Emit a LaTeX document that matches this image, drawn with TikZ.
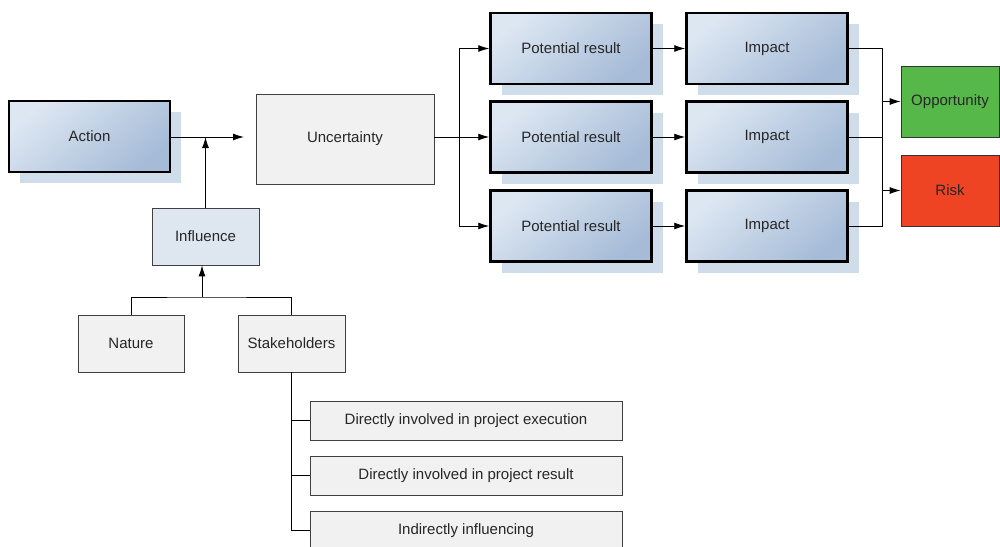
\documentclass[tikz,border=0pt]{standalone}
\usepackage{fontspec}
\setmainfont{Liberation Sans}
\usetikzlibrary{shadows,arrows.meta}

\definecolor{bluelight}{HTML}{DDE7F2}
\definecolor{bluedark}{HTML}{A5BBD7}
\definecolor{shadeblue}{HTML}{CFDCEA}
\definecolor{palegray}{HTML}{F1F1F1}
\definecolor{paleblue}{HTML}{DEE6F0}
\definecolor{oppgreen}{HTML}{55B849}
\definecolor{riskred}{HTML}{EE4424}

\tikzset{
  bluebox/.style={draw=black,line width=2.5pt,top color=bluelight,bottom color=bluedark,
    shading angle=40,minimum width=161pt,minimum height=71pt,
    drop shadow={fill=shadeblue,opacity=1,shadow xshift=11pt,shadow yshift=-11pt}},
  graybox/.style={draw=black!75,line width=0.8pt,fill=palegray},
  colbox/.style={draw=black!80,line width=0.8pt,minimum width=98pt,minimum height=71pt},
  arr/.style={-{Latex[length=11pt,width=7pt]}},
}

\begin{document}
\begin{tikzpicture}[x=1pt,y=-1pt,font=\fontsize{15}{18}\selectfont,text=black!85,line width=0.9pt]
\useasboundingbox (0,0) rectangle (1000,546);
\node[bluebox](action) at (89.5,136.5){Action};
\node[graybox,minimum width=178pt,minimum height=90pt](uncert) at (345,139){Uncertainty};
\node[graybox,fill=paleblue,minimum width=107pt,minimum height=57pt](infl) at (205.5,236.5){Influence};
\node[graybox,minimum width=106pt,minimum height=57pt](nature) at (131,343.5){Nature};
\node[graybox,minimum width=107pt,minimum height=57pt](stake) at (291.5,343.5){Stakeholders};
\node[graybox,minimum width=312pt,minimum height=39pt](dir1) at (466,420.5){Directly involved in project execution};
\node[graybox,minimum width=312pt,minimum height=39pt](dir2) at (466,475.5){Directly involved in project result};
\node[graybox,minimum width=312pt,minimum height=39pt](dir3) at (466,530.5){Indirectly influencing};
\foreach \i/\y in {1/48.5,2/137,3/226}{
  \node[bluebox](pr\i) at (571,\y){Potential result};
  \node[bluebox](im\i) at (767,\y){Impact};
}
\node[colbox,fill=oppgreen](opp) at (950,101.5){Opportunity};
\node[colbox,fill=riskred](risk) at (950,190.5){Risk};

% junctions
\coordinate (aj) at (244,137);
\coordinate (tj) at (202,297);
\coordinate (uj) at (459,137);
\coordinate (mj) at (882,137);

\draw[arr] (action.east |- aj) -- (aj);
\draw[arr] (infl.north) -- (infl.north |- aj);
\draw (nature.north) |- (tj) -| (stake.north);
\draw[arr] (tj) -- (tj |- infl.south);
\draw (stake.south) |- (dir3.west);
\draw (stake.south |- dir1.west) -- (dir1.west);
\draw (stake.south |- dir2.west) -- (dir2.west);
\draw (uncert.east |- uj) -- (uj);
\foreach \i in {1,2,3}{
  \draw[arr] (uj) |- (pr\i.west);
  \draw[arr] (pr\i.east) -- (im\i.west);
  \draw (im\i.east) -| (mj);
}
\draw[arr] (mj) |- (opp.west);
\draw[arr] (mj) |- (risk.west);
\end{tikzpicture}
\end{document}
